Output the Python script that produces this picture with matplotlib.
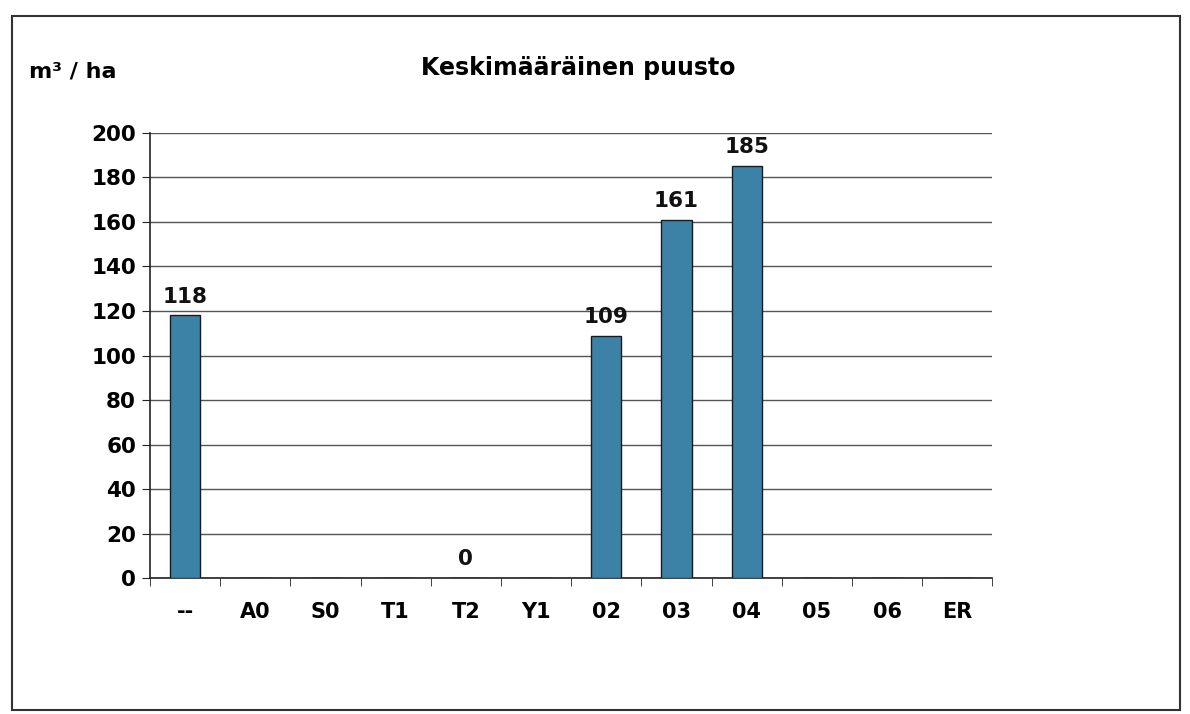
import matplotlib
matplotlib.use("Agg")
import matplotlib.pyplot as plt
from matplotlib.patches import Rectangle
import numpy as np

categories = ["--", "A0", "S0", "T1", "T2", "Y1", "02", "03", "04", "05", "06", "ER"]
values = [118, 0, 0, 0, 0, 0, 109, 161, 185, 0, 0, 0]
shown_labels = {"--": "118", "T2": "0", "02": "109", "03": "161", "04": "185"}
yticks = list(range(0, 201, 20))

plt.rcParams['font.family'] = ['DejaVu Sans']
plt.rcParams['font.weight'] = 'bold'

fig = plt.figure(figsize=(11.9, 7.14), dpi=100)
fig.patches.append(Rectangle((0.010, 0.006), 0.982, 0.972, transform=fig.transFigure,
                             fill=False, edgecolor='#333333', linewidth=1.5))
ax = fig.add_axes([0.126, 0.190, 0.708, 0.624])

x = np.arange(len(categories))
ax.bar(x, values, width=0.43, color='#3c82a6', edgecolor='#1a1a1a', linewidth=1.0, zorder=3)

for xi, c, v in zip(x, categories, values):
    if c in shown_labels:
        ax.text(xi, v + 4, shown_labels[c], ha='center', va='bottom',
                fontsize=15.5, fontweight='bold', color='#111111')

ax.set_xlim(-0.5, len(categories) - 0.5)
ax.set_ylim(0, 200)
ax.set_yticks(yticks)
ax.set_yticklabels([str(t) for t in yticks], fontsize=15.5, fontweight='bold')
ax.yaxis.grid(True, color='#555555', linewidth=1.0, zorder=0)
ax.set_axisbelow(True)

ax.set_xticks(x)
ax.set_xticklabels(categories, fontsize=15, fontweight='bold')
ax.set_xticks(np.arange(-0.5, len(categories), 1), minor=True)
ax.tick_params(axis='x', which='major', length=0, pad=17)
ax.tick_params(axis='x', which='minor', length=6, direction='out', color='#222222')
ax.tick_params(axis='y', length=6, direction='out', color='#222222', pad=4)

for s in ['top', 'right']:
    ax.spines[s].set_visible(False)
ax.spines['left'].set_color('#222222')
ax.spines['bottom'].set_color('#222222')
ax.spines['left'].set_linewidth(1.2)
ax.spines['bottom'].set_linewidth(1.2)

fig.text(0.486, 0.905, "Keskimääräinen puusto", ha='center', va='center',
         fontsize=17, fontweight='bold')
fig.text(0.024, 0.900, "m³ / ha", ha='left', va='center', fontsize=16, fontweight='bold')

fig.savefig("out.png", dpi=100)
